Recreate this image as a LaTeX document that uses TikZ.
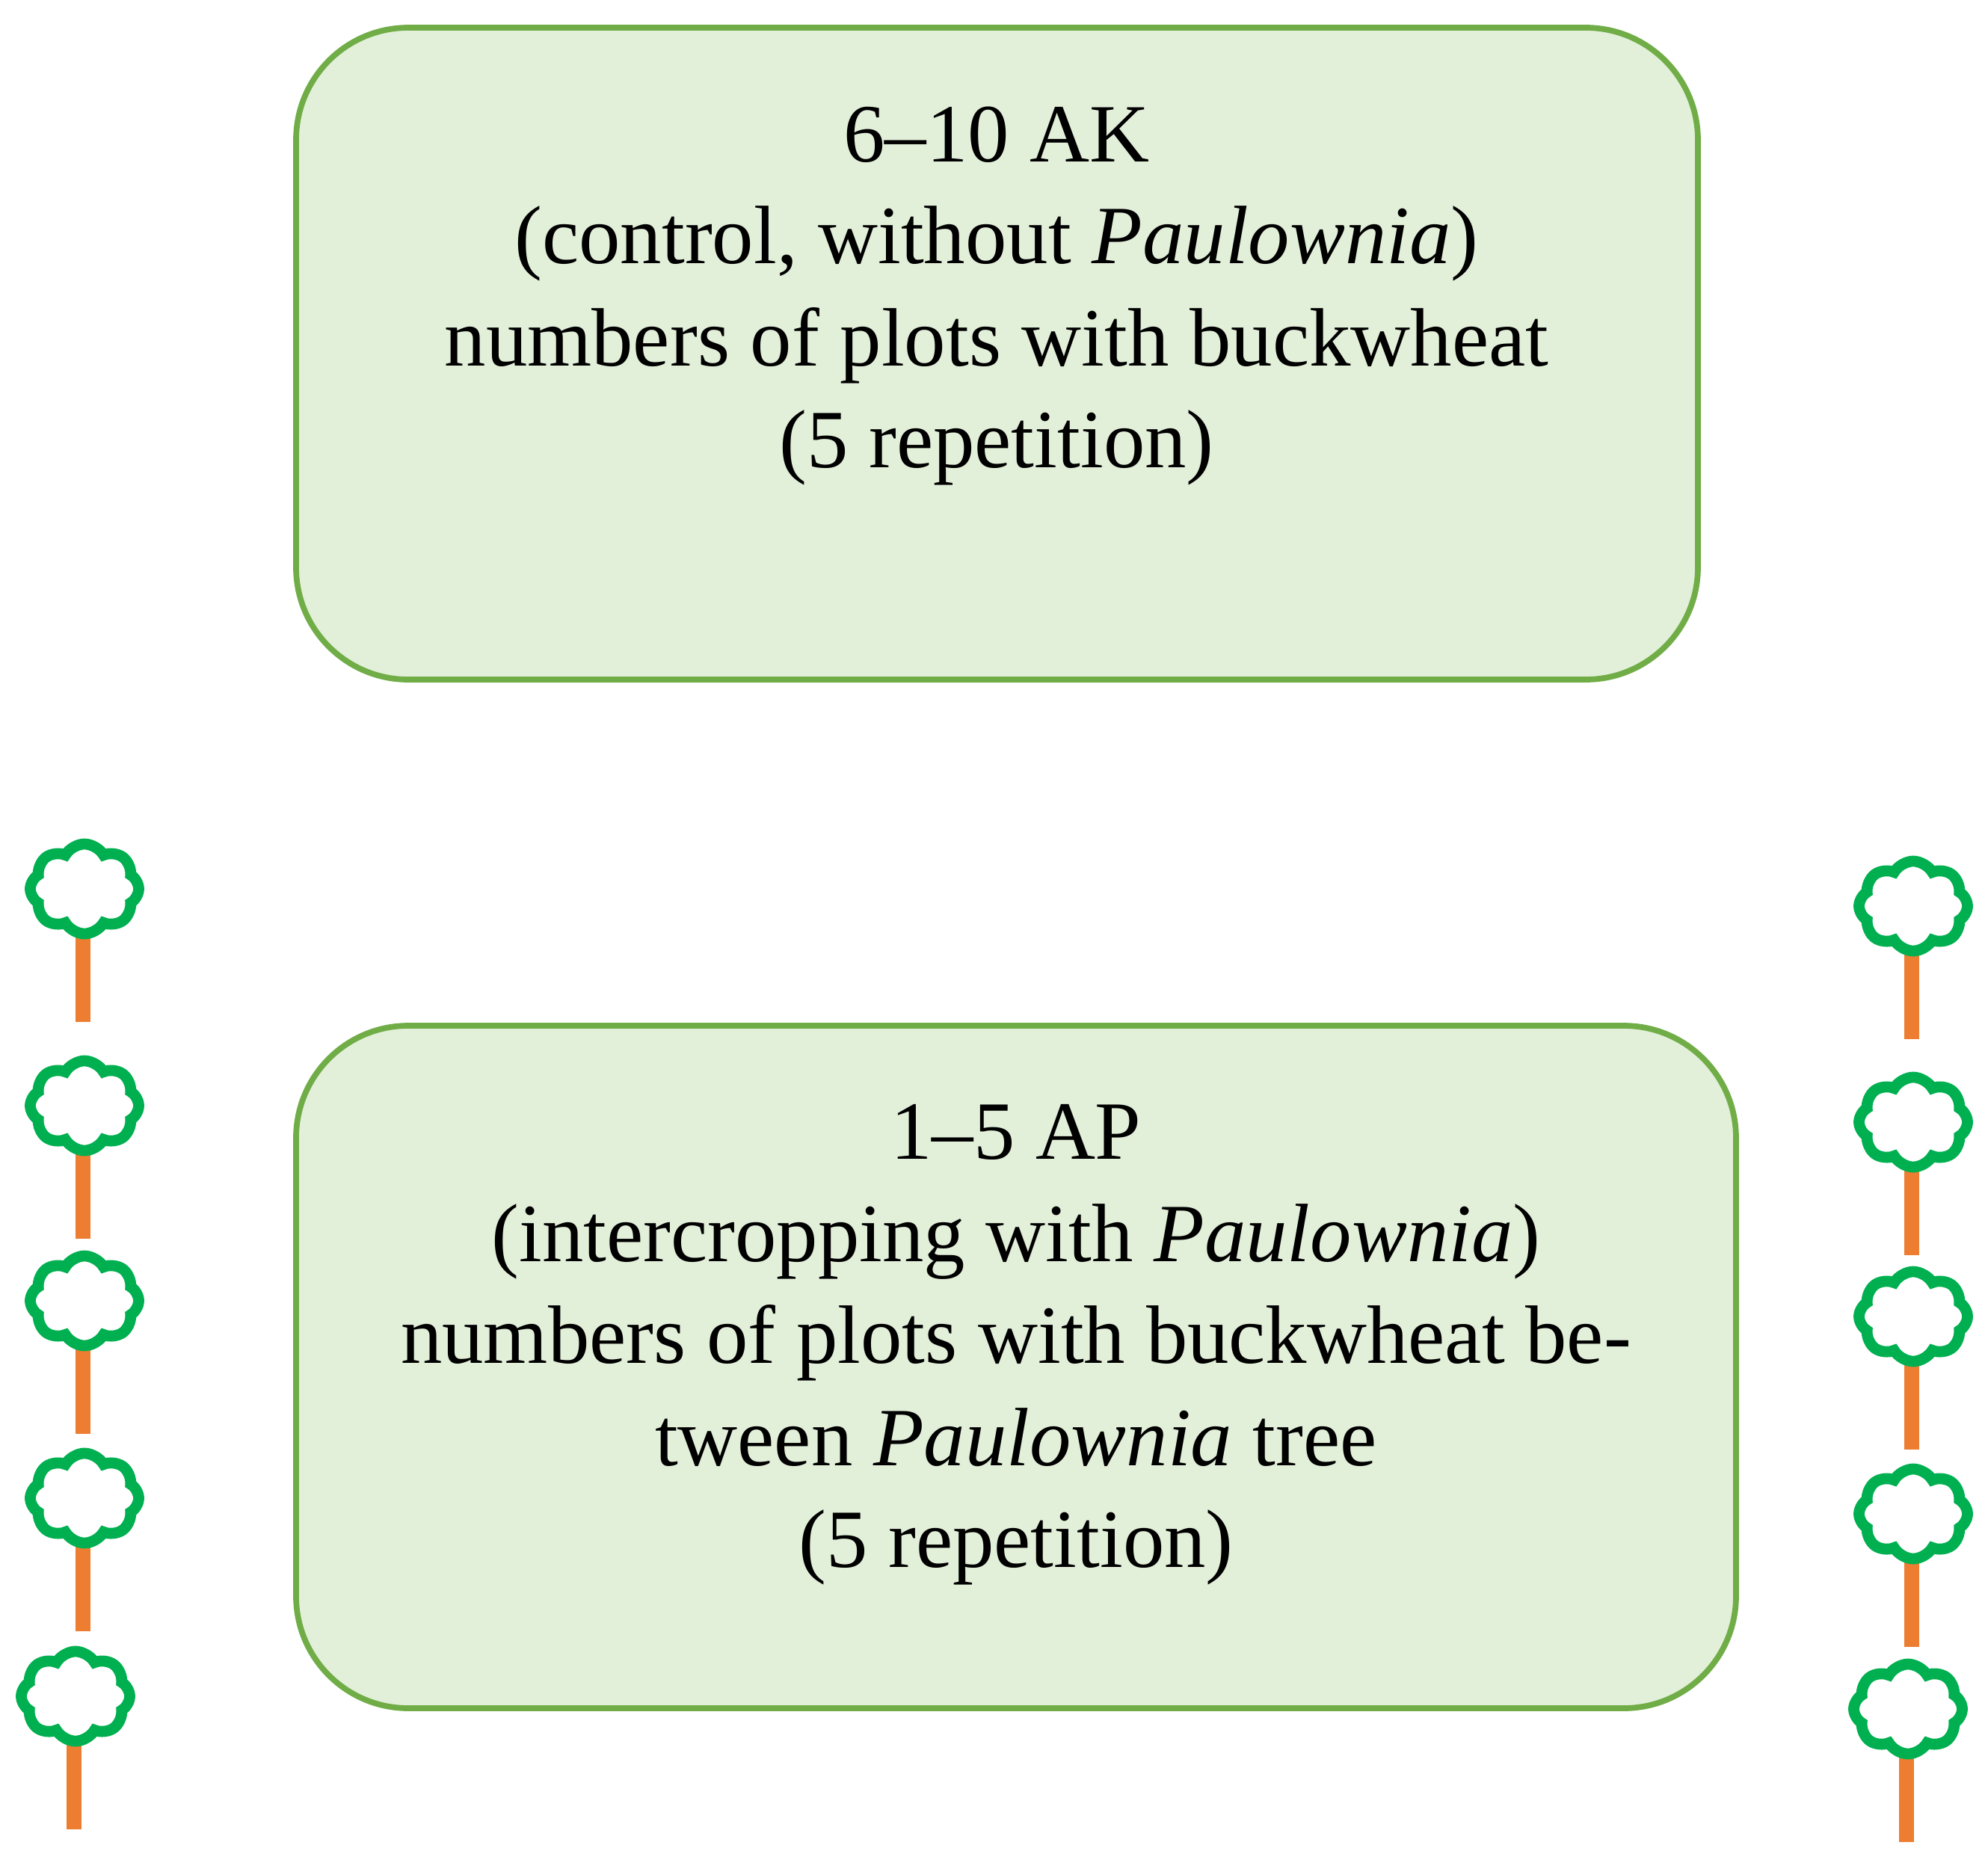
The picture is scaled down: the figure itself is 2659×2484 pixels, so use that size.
\documentclass[tikz,border=0pt]{standalone}
\usepackage{fontspec}
\setmainfont{Liberation Serif}
\usetikzlibrary{shapes.symbols}
\begin{document}
\begin{tikzpicture}[x=0.01cm,y=-0.01cm,
  box/.style={draw=boxline,fill=boxfill,line width=2.2pt,rounded corners=1.5cm},
  txt/.style={align=center,font=\fontsize{31.5}{38.8}\selectfont},
  crown/.style={cloud,cloud puffs=8,cloud puff arc=120,aspect=1.2,draw=treegreen,fill=white,line width=4.2pt,minimum width=1.45cm,minimum height=1.2cm,inner sep=0pt},
  trunk/.style={draw=trunkorange,line width=5.7pt}]
\definecolor{boxline}{RGB}{112,173,71}
\definecolor{boxfill}{RGB}{226,239,217}
\definecolor{treegreen}{RGB}{0,176,80}
\definecolor{trunkorange}{RGB}{237,125,49}
\useasboundingbox (0,0) rectangle (2659,2484);
\draw[box] (396,37) rectangle (2271,909);
\draw[box] (396,1372) rectangle (2322,2285);
\node[txt] (t1) at (1333,396) {6–10 AK\\(control, without \textit{Paulownia})\\numbers of plots with buckwheat\\(5 repetition)};
\node[txt] (t2) at (1359,1799) {1–5 AP\\(intercropping with \textit{Paulownia})\\numbers of plots with buckwheat be-\\tween \textit{Paulownia} tree\\(5 repetition)};
\foreach \x/\y [count=\i] in {111/1367,111/1657,111/1918,111/2182,99/2447,2557/1390,2557/1679,2557/1939,2557/2203,2550/2464}{
  \coordinate (b\i) at (\x,\y);
  \coordinate (u\i) at (\x,\y-115);
  \draw[trunk] (b\i) -- (u\i);
  \node[crown] (c\i) at (\x+2,\y-178) {};
}
\end{tikzpicture}
\end{document}
